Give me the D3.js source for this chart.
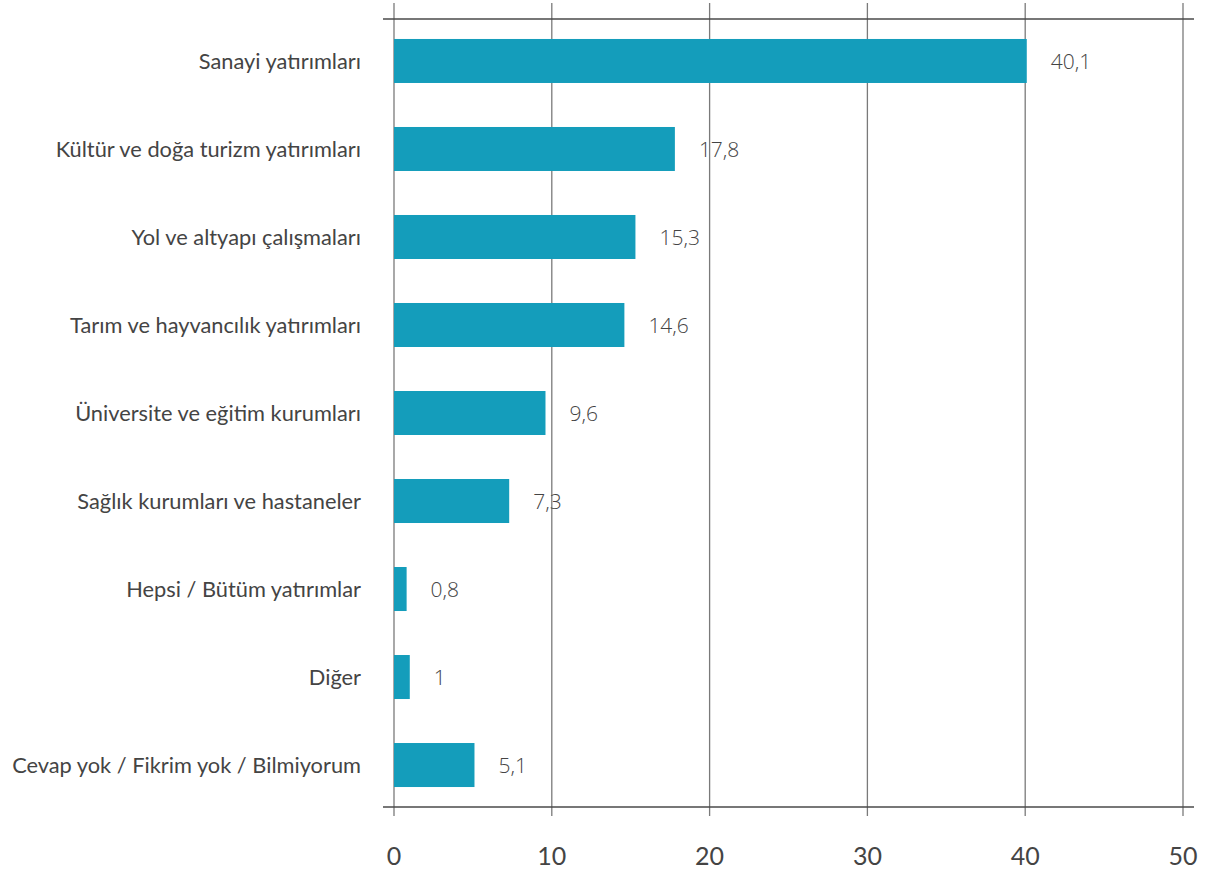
<!DOCTYPE html>
<html>
<head>
<meta charset="utf-8">
<script src="https://cdn.jsdelivr.net/npm/d3@7"></script>
<style>
  html, body { margin: 0; padding: 0; background: #fff; }
  svg { display: block; }
</style>
</head>
<body>
<svg id="chart" width="1210" height="873"></svg>
<script>
const categories = [
  "Sanayi yatırımları",
  "Kültür ve doğa turizm yatırımları",
  "Yol ve altyapı çalışmaları",
  "Tarım ve hayvancılık yatırımları",
  "Üniversite ve eğitim kurumları",
  "Sağlık kurumları ve hastaneler",
  "Hepsi / Bütüm yatırımlar",
  "Diğer",
  "Cevap yok / Fikrim yok / Bilmiyorum"
];
const values = [40.1, 17.8, 15.3, 14.6, 9.6, 7.3, 0.8, 1, 5.1];
const valueLabels = ["40,1", "17,8", "15,3", "14,6", "9,6", "7,3", "0,8", "1", "5,1"];
const tickValues = [0, 10, 20, 30, 40, 50];

const svg = d3.select("#chart");
const plotLeft = 394, plotRight = 1183, plotTop = 19, plotBottom = 807;

const x = d3.scaleLinear().domain([0, 50]).range([plotLeft, plotRight]);
const y = d3.scaleBand().domain(categories).range([plotTop, plotBottom]).paddingInner(0.5).paddingOuter(0.227);

// vertical gridlines
svg.append("g").selectAll("line").data(tickValues).join("line")
  .attr("x1", d => x(d)).attr("x2", d => x(d))
  .attr("y1", 3).attr("y2", 816)
  .attr("stroke", "#7a7a7a").attr("stroke-width", 1.3);

// horizontal lines top and bottom
svg.append("g").selectAll("line").data([plotTop, plotBottom]).join("line")
  .attr("x1", 383).attr("x2", 1194)
  .attr("y1", d => d).attr("y2", d => d)
  .attr("stroke", "#4a4a4a").attr("stroke-width", 1.3);

// bars
svg.append("g").selectAll("rect").data(values).join("rect")
  .attr("x", x(0))
  .attr("y", (d, i) => y(categories[i]))
  .attr("width", d => x(d) - x(0))
  .attr("height", y.bandwidth())
  .attr("fill", "#149DBB");

// value labels
svg.append("g").selectAll("text").data(values).join("text")
  .attr("x", d => x(d) + 24)
  .attr("y", (d, i) => y(categories[i]) + y.bandwidth() / 2)
  .attr("dy", "0.4em")
  .attr("font-family", "'Open Sans', sans-serif")
  .attr("font-weight", 300)
  .attr("font-size", 21)
  .attr("fill", "#444")
  .text((d, i) => valueLabels[i]);

// category labels
svg.append("g").selectAll("text").data(categories).join("text")
  .attr("x", 361)
  .attr("y", d => y(d) + y.bandwidth() / 2)
  .attr("dy", "0.35em")
  .attr("text-anchor", "end")
  .attr("font-family", "Lato, sans-serif")
  .attr("font-size", 21.8)
  .attr("fill", "#444")
  .text(d => d);

// x tick labels
svg.append("g").selectAll("text").data(tickValues).join("text")
  .attr("x", d => x(d))
  .attr("y", 865)
  .attr("text-anchor", "middle")
  .attr("font-family", "Lato, sans-serif")
  .attr("font-size", 25)
  .attr("fill", "#444")
  .text(d => d);
</script>
</body>
</html>
